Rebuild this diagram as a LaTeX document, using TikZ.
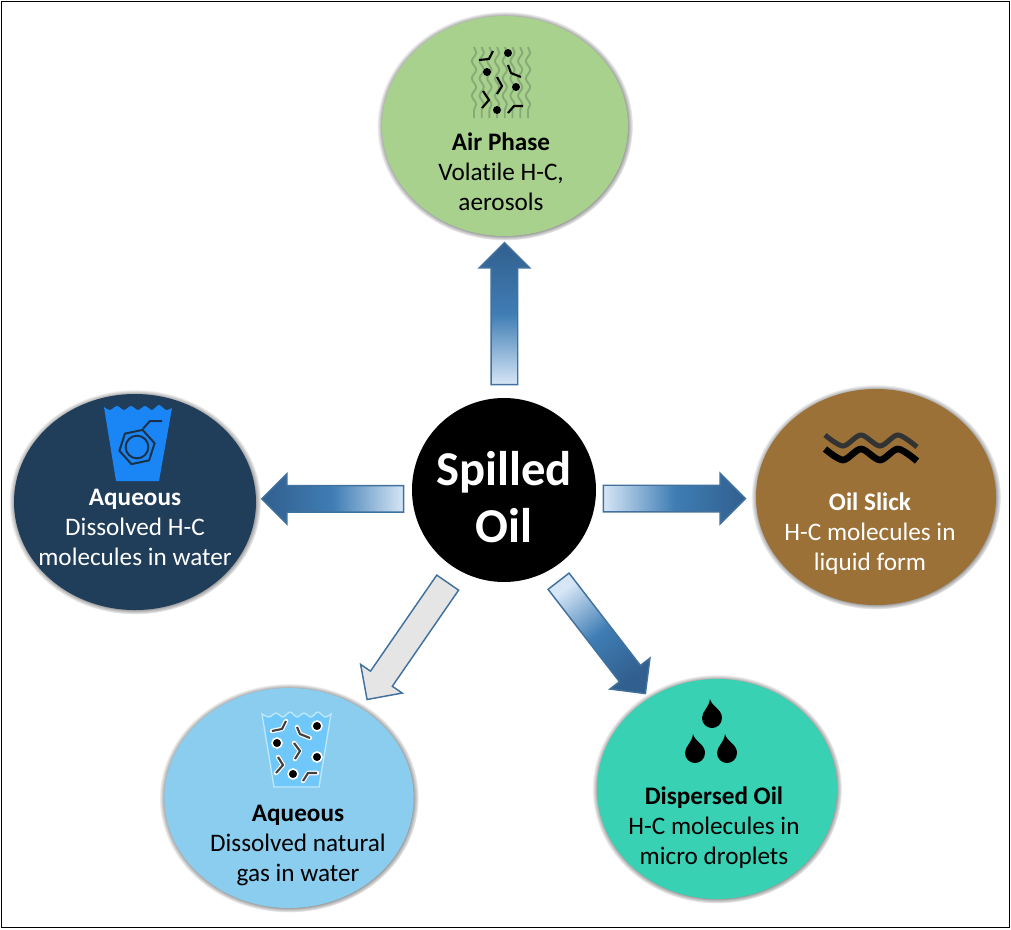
\documentclass[tikz,border=0pt]{standalone}
\usepackage{fontspec}
\setmainfont{Carlito}[Ligatures=NoCommon]
\usetikzlibrary{shapes.geometric,shapes.arrows,shadows,fadings,decorations.pathmorphing}
\definecolor{airgreen}{HTML}{A9D18E}
\definecolor{deepblue}{HTML}{203D5A}
\definecolor{slickbrown}{HTML}{9C7137}
\definecolor{skyblue}{HTML}{8ACDEF}
\definecolor{teal}{HTML}{38D1B4}
\definecolor{arrowline}{HTML}{41719C}
\definecolor{arrowpale}{HTML}{D6E6F6}
\definecolor{arrowmid}{HTML}{3F7DB4}
\definecolor{arrowdeep}{HTML}{315F8E}
\definecolor{airwave}{HTML}{86A976}
\tikzset{
  phase/.style={ellipse,inner sep=0pt,outer sep=0pt,fill=#1,
    circular glow={fill=black!85,shadow scale=1.04,path fading=circle with fuzzy edge 10 percent}},
  phasetext/.style={align=center,font=\fontsize{18.9pt}{22.5pt}\selectfont},
  blockarrow/.style={single arrow,draw=arrowline,line width=1.1pt,
    inner xsep=0pt,inner ysep=9.4pt,outer sep=0pt,minimum height=106.5pt,
    single arrow head extend=9pt,single arrow tip angle=90},
  bluearrow/.style={blockarrow,top color=arrowdeep,bottom color=arrowpale,middle color=arrowmid,
    shading angle=#1},
  mol/.style={line width=1.6pt,line join=round},
}
\begin{document}
\begin{tikzpicture}[x=0.75pt,y=0.75pt,yscale=-1,xscale=1]
\useasboundingbox (0,0) rectangle (1011,929);

%Frame
\draw [line width=1.4pt] (1.5,1.5) rectangle (1009.5,927.5);

%Phases
\node [phase=airgreen,minimum width=184.5pt,minimum height=165pt] (air) at (505,126) {};
\node [phase=deepblue,minimum width=181.5pt,minimum height=162pt] (dissolved) at (135,502) {};
\node [phase=slickbrown,minimum width=180pt,minimum height=162pt] (slick) at (876,497) {};
\node [phase=skyblue,minimum width=187pt,minimum height=165pt] (gas) at (289,798) {};
\node [phase=teal,minimum width=180pt,minimum height=165pt] (dispersed) at (717,789) {};
\node [circle,fill=black,inner sep=0pt,outer sep=0pt,minimum size=138pt] (oil) at (504,490) {};

%Arrows
\path (oil.north) -- (air.south) node [bluearrow=0,rotate=90,pos=0.48] (toair) {};
\path (oil.-5.6) -- (slick.181) node [bluearrow=-90,pos=0.45] (toslick) {};
\path (oil.185.6) -- (dissolved.1.5) node [bluearrow=90,rotate=180,pos=0.467] (todissolved) {};
\path (oil.-60.6) -- (dispersed.127.3) node [bluearrow=-142.3,rotate=-52.3,pos=0.485] (todispersed) {};
\path (oil.239) -- (gas.51.6) node [blockarrow,fill=black!10,rotate=235.4,pos=0.478] (togas) {};

%Air icon
\foreach \x in {474,481.7,489.4,497.1,504.8,512.5,520.2,528}
  \draw [airwave,line width=1.4pt,decorate,decoration={snake,amplitude=1.6pt,segment length=13pt}] (\x,47) -- (\x,118);
\foreach \x/\y in {508/53,487/72,516/87,497/110}
  \fill (\x,\y) circle [radius=4];
\foreach \a/\b/\c/\d/\e/\f in {479/60/489/59/493/51,508/65/511/73/521/77,497/77/502/86/497/94,483/91/489/100/482/108,508/113/514/106/523/106}
  \draw [mol] (\a,\b) -- (\c,\d) -- (\e,\f);

%Benzene cup
\fill [color={rgb, 255:red, 26; green, 134; blue, 245}] plot [smooth] coordinates {(104,407) (110,410) (117,406) (124,410) (131,406) (138,410) (145,406) (152,410) (159,405) (166,410) (172,408)} -- (159,481) -- (116,481) -- cycle;
\node [regular polygon,regular polygon sides=6,rotate=12,draw=deepblue!80!black,line width=1.5pt,inner sep=0pt,minimum size=27pt] (ring) at (137,447) {};
\node [circle,draw=deepblue!80!black,line width=1.5pt,inner sep=0pt,minimum size=17pt] (innerring) at (137,447) {};
\draw [deepblue!80!black,line width=1.5pt] (ring.corner 1) -- (150,421) -- (162,421);

%Slick icon
\foreach \y/\col/\w in {435/black!80/3.8,449/black/5}
  \draw [\col,line width=\w pt] plot [smooth] coordinates {(825,\y) (843,\y+11) (861,\y) (880,\y+11) (898,\y) (917,\y+12)};

%Gas cup
\draw [draw={rgb, 255:red, 190; green, 232; blue, 251},fill={rgb, 255:red, 112; green, 200; blue, 250},line width=1pt] plot [smooth] coordinates {(262,714) (269,717) (276,713) (283,717) (290,712) (297,717) (304,713) (311,717) (318,712) (325,717) (331,714)} -- (319,787) -- (274,787) -- cycle;
\foreach \a/\b/\c/\d/\e/\f in {272/731/282/729/286/721,297/727/300/734/310/738,294/743/300/751/295/759,278/757/283/765/276/773,303/781/308/773/317/773} {
  \draw [white,line width=3.4pt,line join=round,line cap=round] (\a,\b) -- (\c,\d) -- (\e,\f);
  \draw [black!75,mol] (\a,\b) -- (\c,\d) -- (\e,\f);
}
\foreach \x/\y in {317/726,277/743,317/757,293/774}
  \filldraw [draw=white,line width=1.2pt,fill=black] (\x,\y) circle [radius=5];

%Droplets
\foreach \x/\y in {712/717,695/752,727/752}
  \fill [shift={(\x,\y)}] (-2,-18) .. controls (0,-10) and (10,-8) .. (10,1) .. controls (10,7) and (5,11) .. (0,11) .. controls (-5,11) and (-10,7) .. (-10,1) .. controls (-10,-6) and (-3,-9) .. cycle;

% Text Node
\node [phasetext] (airlabel) at (501,172) {\textbf{Air Phase}\\Volatile H-C,\\aerosols};
\node [phasetext,text=white] (dissolvedlabel) at (135,527) {\textbf{Aqueous}\\Dissolved H-C\\molecules in water};
\node [phasetext,text=white] (slicklabel) at (870,533.5) {\textbf{Oil Slick}\\H-C molecules in\\liquid form};
\node [phasetext] (gaslabel) at (298,845.5) {\textbf{Aqueous}\\Dissolved natural\\gas in water};
\node [phasetext] (dispersedlabel) at (714,827.5) {\textbf{Dispersed Oil}\\H-C molecules in\\micro droplets};
\node [align=center,text=white,font=\fontsize{36.5pt}{43pt}\selectfont\bfseries] (oillabel) at (504,497) {Spilled\\Oil};

\end{tikzpicture}
\end{document}
